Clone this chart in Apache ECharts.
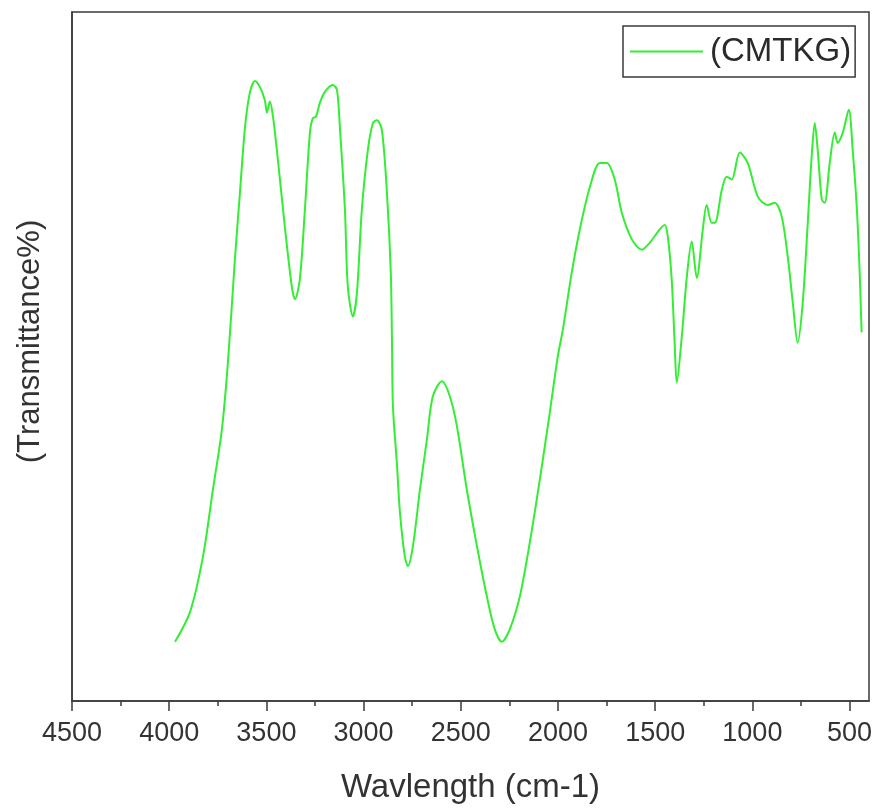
<!DOCTYPE html>
<html>
<head>
<meta charset="utf-8">
<style>html,body{margin:0;padding:0;background:#fff;}#chart{width:876px;height:809px;}</style>
<script src="https://cdn.jsdelivr.net/npm/echarts@6/dist/echarts.min.js"></script>
</head>
<body>
<div id="chart"></div>
<script>
// Wavenumber (cm-1) and transmittance (relative units)
const wavenumbers = [3970,3893,3826,3775,3729,3698,3662,3636,3610,3585,3559,3533,3508,3497,3482,3466,3441,3405,3369,3353,3328,3302,3276,3261,3245,3225,3199,3158,3137,3122,3096,3081,3055,3034,3009,2978,2952,2932,2906,2880,2860,2854,2849,2829,2813,2788,2772,2746,2710,2674,2644,2597,2556,2520,2469,2417,2366,2325,2289,2248,2196,2145,2093,2042,2001,1975,1929,1888,1836,1785,1749,1708,1672,1620,1569,1528,1451,1435,1415,1399,1389,1363,1337,1312,1286,1255,1235,1209,1193,1157,1132,1106,1065,1024,972,921,885,849,818,792,767,741,715,695,679,664,643,628,602,576,561,535,504,484,463,448,438];
const transmittance = [8.6,12.9,21.0,30.7,39.4,49.1,64.1,73.8,83.3,88.3,90.0,89.1,87.2,85.4,87.0,84.8,78.6,68.8,60.1,58.3,61.2,71.3,82.5,84.6,84.8,86.8,88.4,89.4,88.7,83.3,71.3,60.1,55.8,59.3,71.3,80.0,83.9,84.3,82.9,73.8,62.2,52.5,42.8,34.6,27.4,21.0,19.6,22.5,30.7,38.0,44.2,46.4,44.2,39.9,30.7,22.5,15.2,10.4,8.6,10.4,15.2,23.0,32.2,41.9,50.0,53.9,62.2,68.4,74.6,78.1,78.1,75.7,70.9,67.0,65.5,66.5,69.1,67.4,61.2,51.4,46.2,52.9,61.6,66.7,61.4,68.4,72.0,69.4,69.4,74.2,76.1,75.7,79.6,78.1,73.2,72.0,72.3,70.3,64.5,57.8,52.0,57.8,69.4,79.0,83.9,80.0,72.8,72.3,78.1,82.5,81.0,82.5,85.8,80.0,71.7,62.2,53.5];
const majorTicks = [500,1000,1500,2000,2500,3000,3500,4000,4500];
const minorTicks = [750,1250,1750,2250,2750,3250,3750,4250];
const seriesName = '(CMTKG)';

const points = wavenumbers.map((w, i) => [w, transmittance[i]]);
const chart = echarts.init(document.getElementById('chart'));
const font = 'Liberation Sans, Arial, sans-serif';
chart.setOption({
  animation: false,
  backgroundColor: '#fff',
  grid: { left: 72, right: 7, top: 12, bottom: 107, show: true, borderColor: '#3a3a3a', borderWidth: 1.5 },
  legend: {
    left: 623, top: 26,
    padding: [9, 4, 9, 7],
    borderColor: '#3a3a3a', borderWidth: 1.5,
    icon: 'rect',
    itemWidth: 73, itemHeight: 2, itemGap: 0,
    textStyle: { fontFamily: font, fontSize: 33, color: '#2a2a2a', padding: [0, 0, 0, 2] },
    data: [seriesName]
  },
  xAxis: [{
    type: 'value', min: 400, max: 4500, inverse: true, position: 'bottom',
    name: 'Wavlength (cm-1)', nameLocation: 'middle', nameGap: 70,
    nameTextStyle: { fontFamily: font, fontSize: 33, color: '#333' },
    axisLine: { show: true, lineStyle: { color: '#3a3a3a', width: 1.5 } },
    axisTick: { show: true, inside: false, length: 10, customValues: majorTicks, lineStyle: { color: '#3a3a3a', width: 1.5 } },
    axisLabel: { show: true, customValues: majorTicks, margin: 19, fontFamily: font, fontSize: 27, color: '#333', formatter: v => String(v) },
    splitLine: { show: false }
  }, {
    type: 'value', min: 400, max: 4500, inverse: true, position: 'bottom',
    axisLine: { show: false },
    axisTick: { show: true, inside: false, length: 5, customValues: minorTicks, lineStyle: { color: '#3a3a3a', width: 1.5 } },
    axisLabel: { show: false },
    splitLine: { show: false }
  }],
  yAxis: {
    type: 'value', min: 0, max: 100,
    name: '(Transmittance%)', nameLocation: 'middle', nameGap: 26,
    nameTextStyle: { fontFamily: font, fontSize: 31, color: '#333', padding: [0, 0, 0, 30] },
    axisLine: { show: true, lineStyle: { color: '#3a3a3a', width: 1.5 } },
    axisTick: { show: false }, axisLabel: { show: false }, splitLine: { show: false }
  },
  series: [{
    name: seriesName, type: 'line', data: points, xAxisIndex: 0,
    symbol: 'none', smooth: 0.3,
    lineStyle: { color: '#33ee33', width: 2 },
    itemStyle: { color: '#33ee33' }
  }]
});
</script>
</body>
</html>
